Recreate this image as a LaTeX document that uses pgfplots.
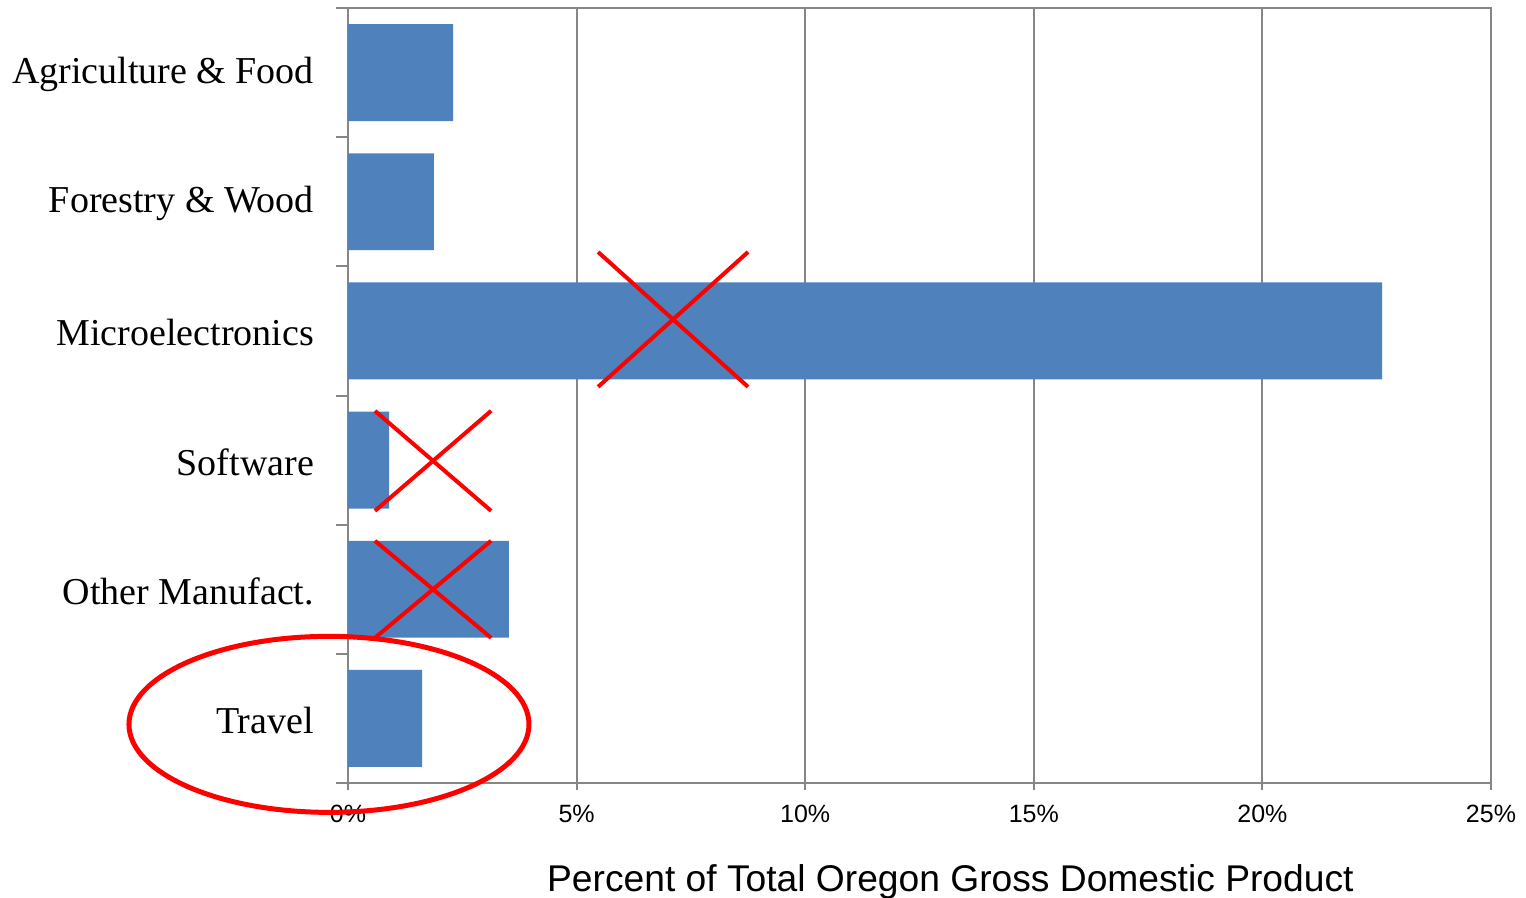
\documentclass[border=0pt]{standalone}
\usepackage{fontspec}
\setmainfont{Liberation Serif}
\newfontfamily\arialfont{Liberation Sans}
\usepackage{pgfplots}
\pgfplotsset{compat=1.18}
\definecolor{barblue}{HTML}{4F81BD}
\definecolor{axisgray}{HTML}{868686}
\definecolor{markred}{HTML}{FF0000}
\begin{document}
\begin{tikzpicture}
\path[use as bounding box] (-174pt,-57.5pt) rectangle (589pt,391.5pt);
\begin{axis}[
  at={(0,0)}, anchor=south west,
  scale only axis,
  width=571.5pt, height=387.5pt,
  xmin=0, xmax=25,
  ymin=-0.5, ymax=5.5,
  y dir=reverse,
  xbar, bar width=0.75,
  clip=false,
  axis line style={axisgray, line width=1pt},
  xtick={0,5,...,25},
  xticklabel={\pgfmathprintnumber{\tick}\%},
  xticklabel style={font=\arialfont\fontsize{12.5}{14}\selectfont, yshift=-4pt},
  /pgf/number format/assume math mode=true,
  xmajorgrids,
  major x grid style={axisgray, line width=1pt},
  x tick style={axisgray, line width=1pt},
  major x tick style={axisgray},
  xtick pos=bottom,
  tick align=outside,
  major tick length=3.5pt,
  ytick={0,...,5},
  yticklabels={Agriculture \& Food, Forestry \& Wood, Microelectronics, Software, Other Manufact., Travel},
  ytick pos=left,
  major y tick style={draw=none},
  minor ytick={-0.5,0.5,...,5.5},
  minor y tick style={axisgray, line width=1pt},
  minor tick length=6pt,
  yticklabel style={font=\fontsize{19}{22}\selectfont, anchor=east, xshift=-10pt, yshift=-1pt},
  xlabel={Percent of Total Oregon Gross Domestic Product},
  xlabel style={font=\arialfont\fontsize{18.6}{21}\selectfont, at={(axis description cs:0.527,0)}, anchor=center, yshift=-49.5pt},
]
\addplot[fill=barblue, draw=none] coordinates {
  (2.30,0) (1.88,1) (22.62,2) (0.90,3) (3.52,4) (1.62,5)
};
% crossed-out sectors
\draw[markred, line width=2pt] (axis cs:5.47,1.389) -- (axis cs:8.75,2.433);
\draw[markred, line width=2pt] (axis cs:8.75,1.389) -- (axis cs:5.47,2.433);
\draw[markred, line width=2pt] (axis cs:0.59,2.619) -- (axis cs:3.13,3.393);
\draw[markred, line width=2pt] (axis cs:3.13,2.619) -- (axis cs:0.59,3.393);
\draw[markred, line width=2pt] (axis cs:0.59,3.625) -- (axis cs:3.13,4.376);
\draw[markred, line width=2pt] (axis cs:3.13,3.625) -- (axis cs:0.59,4.376);
% highlighted sector
\draw[markred, line width=2.5pt] (axis cs:-0.416,5.046) ellipse [x radius=100pt, y radius=44pt];
\end{axis}
\end{tikzpicture}
\end{document}
